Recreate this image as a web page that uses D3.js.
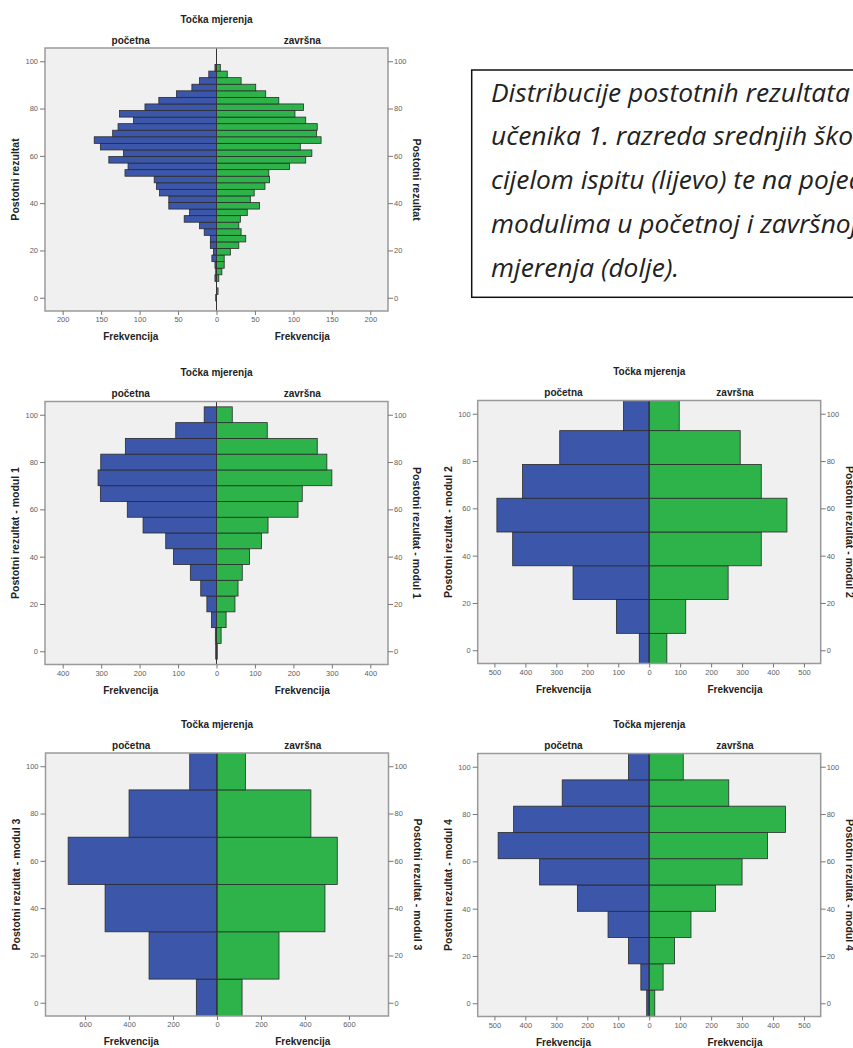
<!DOCTYPE html>
<html>
<head>
<meta charset="utf-8">
<script src="https://cdn.jsdelivr.net/npm/d3@7"></script>
<style>
  body { margin: 0; background: #fff; }
  svg { display: block; }
  .tick text { font-family: "Liberation Sans", Arial, sans-serif; font-size: 7.5px; fill: #5e5e5e; }
  .tick line { stroke: #777; }
  .ttl { font-family: "Liberation Sans", Arial, sans-serif; font-weight: bold; font-size: 10px; fill: #222; }
</style>
</head>
<body>
<svg id="chart" width="853" height="1048"></svg>
<script>
// bin centres (postotni rezultat) and frequencies, bottom bin first
const binsTotal = [0, 2.78, 5.56, 8.33, 11.11, 13.89, 16.67, 19.44, 22.22, 25, 27.78, 30.56,
  33.33, 36.11, 38.89, 41.67, 44.44, 47.22, 50, 52.78, 55.56, 58.33, 61.11, 63.89,
  66.67, 69.44, 72.22, 75, 77.78, 80.56, 83.33, 86.11, 88.89, 91.67, 94.44, 97.22];
const pocetnaTotal = [1, 0, 0, 2, 1, 2, 6, 4, 8, 8, 16, 22, 42, 35, 62, 62, 74, 78,
  81, 119, 115, 140, 121, 151, 159, 135, 128, 108, 126, 93, 75, 52, 32, 22, 10, 2];
const zavrsnaTotal = [0, 2, 0, 3, 7, 10, 10, 18, 29, 38, 32, 29, 31, 40, 56, 44, 49, 63,
  69, 68, 95, 116, 124, 109, 136, 130, 131, 116, 102, 113, 81, 64, 51, 32, 14, 5];

const binsModul1 = [0, 6.67, 13.33, 20, 26.67, 33.33, 40, 46.67, 53.33, 60, 66.67, 73.33, 80, 86.67, 93.33, 100];
const pocetnaModul1 = [2, 3, 13, 25, 41, 68, 112, 132, 191, 232, 302, 308, 301, 237, 106, 32];
const zavrsnaModul1 = [2, 12, 25, 48, 56, 67, 86, 117, 134, 212, 223, 300, 287, 262, 132, 41];

const binsModul2 = [0, 14.29, 28.57, 42.86, 57.14, 71.43, 85.71, 100];
const pocetnaModul2 = [32, 106, 246, 441, 492, 409, 289, 83];
const zavrsnaModul2 = [57, 118, 255, 362, 445, 362, 294, 97];

const binsModul3 = [0, 20, 40, 60, 80, 100];
const pocetnaModul3 = [94, 309, 509, 677, 400, 124];
const zavrsnaModul3 = [114, 282, 491, 547, 427, 129];

const binsModul4 = [0, 11.11, 22.22, 33.33, 44.44, 55.56, 66.67, 77.78, 88.89, 100];
const pocetnaModul4 = [8, 27, 67, 133, 232, 354, 488, 438, 281, 67];
const zavrsnaModul4 = [18, 45, 82, 135, 214, 300, 382, 440, 257, 110];

const yTicks = [0, 20, 40, 60, 80, 100];
const xTicks200 = [-200, -150, -100, -50, 0, 50, 100, 150, 200];
const xTicks400 = [-400, -300, -200, -100, 0, 100, 200, 300, 400];
const xTicks500 = [-500, -400, -300, -200, -100, 0, 100, 200, 300, 400, 500];
const xTicks600 = [-600, -400, -200, 0, 200, 400, 600];

const captionLines = [
  'Distribucije postotnih rezultata',
  'učenika 1. razreda srednjih škola na',
  'cijelom ispitu (lijevo) te na pojedinim',
  'modulima u početnoj i završnoj točki',
  'mjerenja (dolje).'
];

const BLUE = '#3c56a9';
const GREEN = '#2db34a';
const frameW = 343, frameH = 263;
const yDomain = [-5.6, 105.6];

const svg = d3.select('#chart');

function drawPyramid(cfg, idx) {
  const g = svg.append('g').attr('transform', `translate(${cfg.left},${cfg.top})`);
  const x = d3.scaleLinear().domain([-cfg.maxX, cfg.maxX]).range([0, frameW]);
  const y = d3.scaleLinear().domain(yDomain).range([frameH, 0]);
  const binW = cfg.bins[1] - cfg.bins[0];

  g.append('rect')
    .attr('width', frameW).attr('height', frameH)
    .attr('fill', '#f0f0f0');

  g.append('clipPath').attr('id', 'clip' + idx)
    .append('rect').attr('width', frameW).attr('height', frameH);

  const bars = g.append('g').attr('clip-path', `url(#clip${idx})`);

  const rows = cfg.bins.map((b, i) => ({ b: b, p: cfg.pocetna[i], z: cfg.zavrsna[i] }));

  bars.selectAll('rect.poc')
    .data(rows.filter(d => d.p > 0))
    .join('rect')
    .attr('class', 'poc')
    .attr('x', d => x(-d.p))
    .attr('width', d => x(0) - x(-d.p))
    .attr('y', d => y(d.b + binW / 2))
    .attr('height', d => y(d.b - binW / 2) - y(d.b + binW / 2))
    .attr('fill', BLUE)
    .attr('stroke', '#2b2b2b')
    .attr('stroke-width', 0.8);

  bars.selectAll('rect.zav')
    .data(rows.filter(d => d.z > 0))
    .join('rect')
    .attr('class', 'zav')
    .attr('x', x(0))
    .attr('width', d => x(d.z) - x(0))
    .attr('y', d => y(d.b + binW / 2))
    .attr('height', d => y(d.b - binW / 2) - y(d.b + binW / 2))
    .attr('fill', GREEN)
    .attr('stroke', '#2b2b2b')
    .attr('stroke-width', 0.8);

  g.append('line')
    .attr('x1', x(0)).attr('x2', x(0))
    .attr('y1', 0).attr('y2', frameH)
    .attr('stroke', '#333').attr('stroke-width', 1);

  g.append('rect')
    .attr('width', frameW).attr('height', frameH)
    .attr('fill', 'none')
    .attr('stroke', '#9a9a9a').attr('stroke-width', 1.5);

  const yl = g.append('g').call(d3.axisLeft(y).tickValues(yTicks).tickSize(5).tickPadding(2));
  const yr = g.append('g').attr('transform', `translate(${frameW},0)`)
    .call(d3.axisRight(y).tickValues(yTicks).tickSize(5).tickPadding(1));
  const xb = g.append('g').attr('transform', `translate(0,${frameH})`)
    .call(d3.axisBottom(x).tickValues(cfg.xTicks).tickFormat(d => Math.abs(d)).tickSize(4).tickPadding(2));
  [yl, yr, xb].forEach(a => a.select('.domain').remove());

  const half = frameW / 4;
  g.append('text').attr('class', 'ttl')
    .attr('x', x(0)).attr('y', -25.5).attr('text-anchor', 'middle')
    .text('Točka mjerenja');
  g.append('text').attr('class', 'ttl')
    .attr('x', half).attr('y', -4.5).attr('text-anchor', 'middle')
    .text('početna');
  g.append('text').attr('class', 'ttl')
    .attr('x', frameW - half).attr('y', -4.5).attr('text-anchor', 'middle')
    .text('završna');
  [half, frameW - half].forEach(cx => {
    g.append('text').attr('class', 'ttl')
      .attr('x', cx).attr('y', frameH + 29).attr('text-anchor', 'middle')
      .text('Frekvencija');
  });

  g.append('text').attr('class', 'ttl')
    .style('font-size', '10.5px')
    .attr('transform', `translate(-26,${frameH / 2}) rotate(-90)`)
    .attr('text-anchor', 'middle')
    .text(cfg.label);
  g.append('text').attr('class', 'ttl')
    .style('font-size', '10.5px')
    .attr('transform', `translate(${frameW + 25},${frameH / 2}) rotate(90)`)
    .attr('text-anchor', 'middle')
    .text(cfg.label);
}

drawPyramid({ left: 45, top: 48, bins: binsTotal, pocetna: pocetnaTotal, zavrsna: zavrsnaTotal,
  maxX: 223, xTicks: xTicks200, label: 'Postotni rezultat' }, 0);
drawPyramid({ left: 45, top: 401.5, bins: binsModul1, pocetna: pocetnaModul1, zavrsna: zavrsnaModul1,
  maxX: 446, xTicks: xTicks400, label: 'Postotni rezultat - modul 1' }, 1);
drawPyramid({ left: 477.7, top: 400.5, bins: binsModul2, pocetna: pocetnaModul2, zavrsna: zavrsnaModul2,
  maxX: 554, xTicks: xTicks500, label: 'Postotni rezultat - modul 2' }, 2);
drawPyramid({ left: 45.5, top: 753, bins: binsModul3, pocetna: pocetnaModul3, zavrsna: zavrsnaModul3,
  maxX: 780, xTicks: xTicks600, label: 'Postotni rezultat - modul 3' }, 3);
drawPyramid({ left: 477.7, top: 753.5, bins: binsModul4, pocetna: pocetnaModul4, zavrsna: zavrsnaModul4,
  maxX: 554, xTicks: xTicks500, label: 'Postotni rezultat - modul 4' }, 4);

// caption box, running off the right edge like the source page
svg.append('rect')
  .attr('x', 471.7).attr('y', 70)
  .attr('width', 420).attr('height', 227.3)
  .attr('fill', 'none').attr('stroke', '#111').attr('stroke-width', 1.5);

const cap = svg.append('g')
  .style('font-family', '"Open Sans", "Noto Sans", sans-serif')
  .style('font-style', 'italic')
  .style('font-weight', 400)
  .style('font-size', '20px')
  .style('fill', '#222');
cap.selectAll('text')
  .data(captionLines)
  .join('text')
  .attr('x', 491)
  .attr('y', (d, i) => 101.7 + i * 43.7)
  .text(d => d);

// fit the first caption line to the measured width in the source
const w0 = cap.select('text').node().getComputedTextLength();
cap.style('font-size', (20 * 359 / w0).toFixed(2) + 'px');
</script>
</body>
</html>
